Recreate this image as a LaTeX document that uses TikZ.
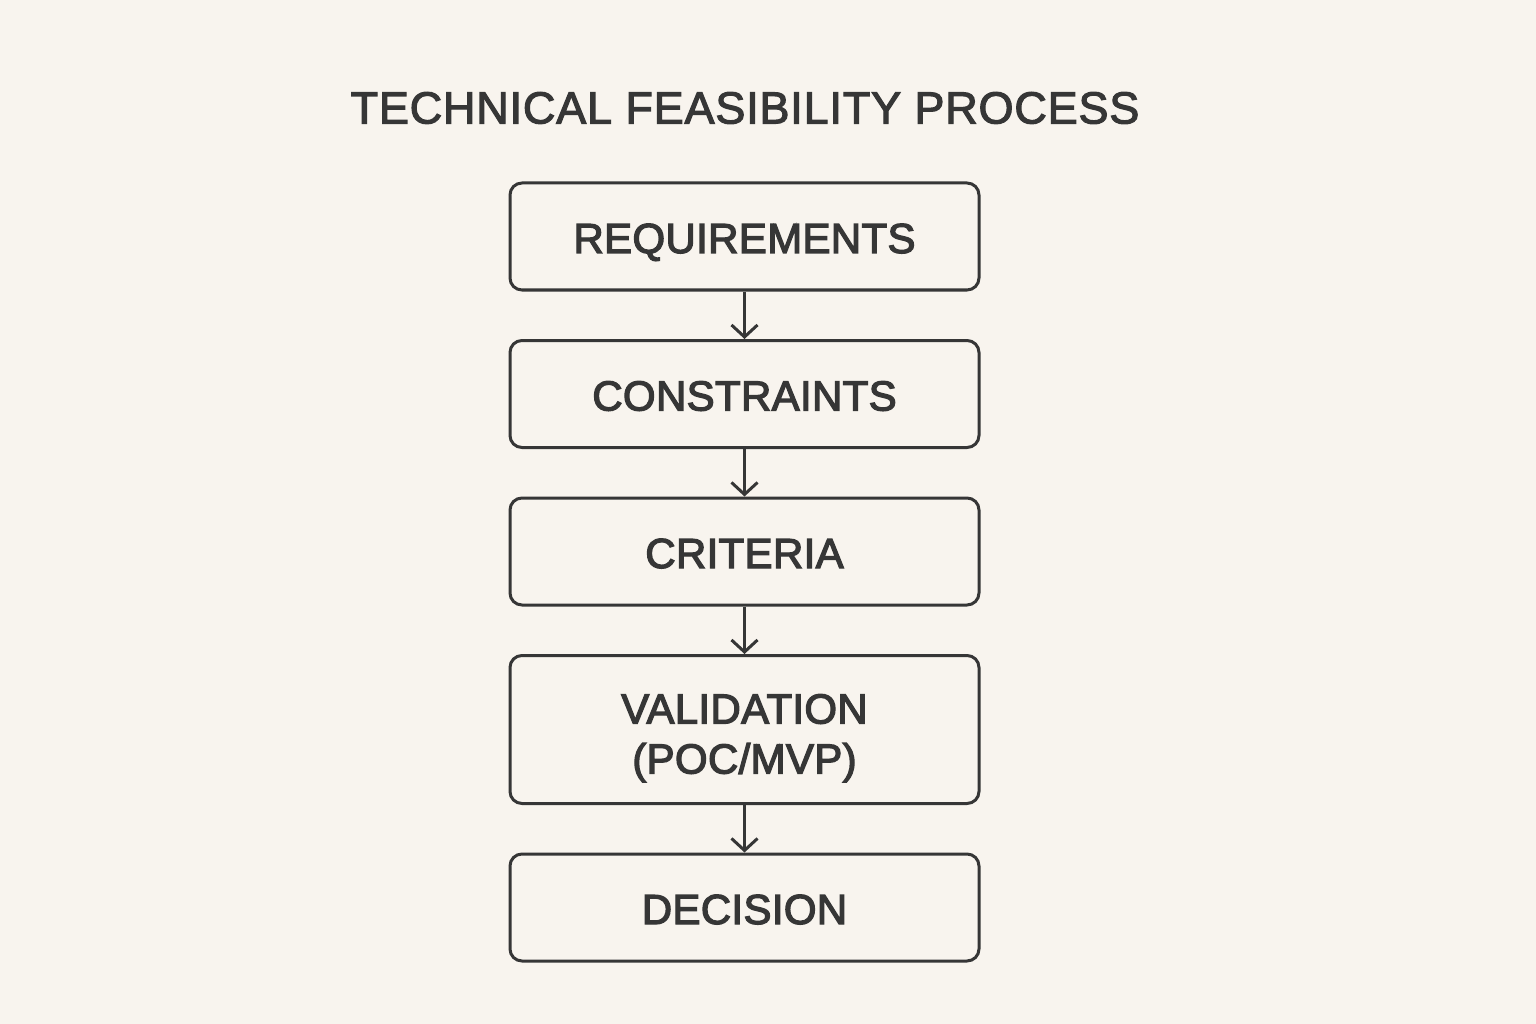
\documentclass[tikz,border=0pt]{standalone}
\usepackage{fontspec}
\setmainfont{Liberation Sans}
\usetikzlibrary{positioning,arrows.meta}
\definecolor{paper}{HTML}{F8F4EE}
\definecolor{ink}{HTML}{363636}
\tikzset{
  stage/.style={draw=ink,line width=3pt,rounded corners=12pt,minimum width=469pt,
    minimum height=107pt,text=ink,align=center,text height=33pt,text depth=0pt,
    font=\fontsize{42}{50}\selectfont\addfontfeatures{FakeBold=3,LetterSpace=0.8}},
  flow/.style={draw=ink,line width=3pt,-{Straight Barb[length=12pt,width=26pt,line width=3pt]}}
}
\begin{document}
\begin{tikzpicture}[x=1pt,y=1pt,node distance=47.5pt]
\fill[paper] (0,0) rectangle (1536,-1024);
\useasboundingbox (0,0) rectangle (1536,-1024);
\node[text=ink,font=\fontsize{45}{50}\selectfont\addfontfeatures{LetterSpace=1.8,FakeBold=2.5}] (title) at (745,-108) {TECHNICAL FEASIBILITY PROCESS};
\node[stage] (req) at (744.5,-236.5) {REQUIREMENTS};
\node[stage,below=of req] (con) {CONSTRAINTS};
\node[stage,below=of con] (cri) {CRITERIA};
\node[stage,below=of cri,minimum height=148pt,text height=100pt,text depth=12pt] (val) {VALIDATION\\(POC/MVP)};
\node[stage,below=of val] (dec) {DECISION};
\draw[flow] (req) -- (con);
\draw[flow] (con) -- (cri);
\draw[flow] (cri) -- (val);
\draw[flow] (val) -- (dec);
\end{tikzpicture}
\end{document}
